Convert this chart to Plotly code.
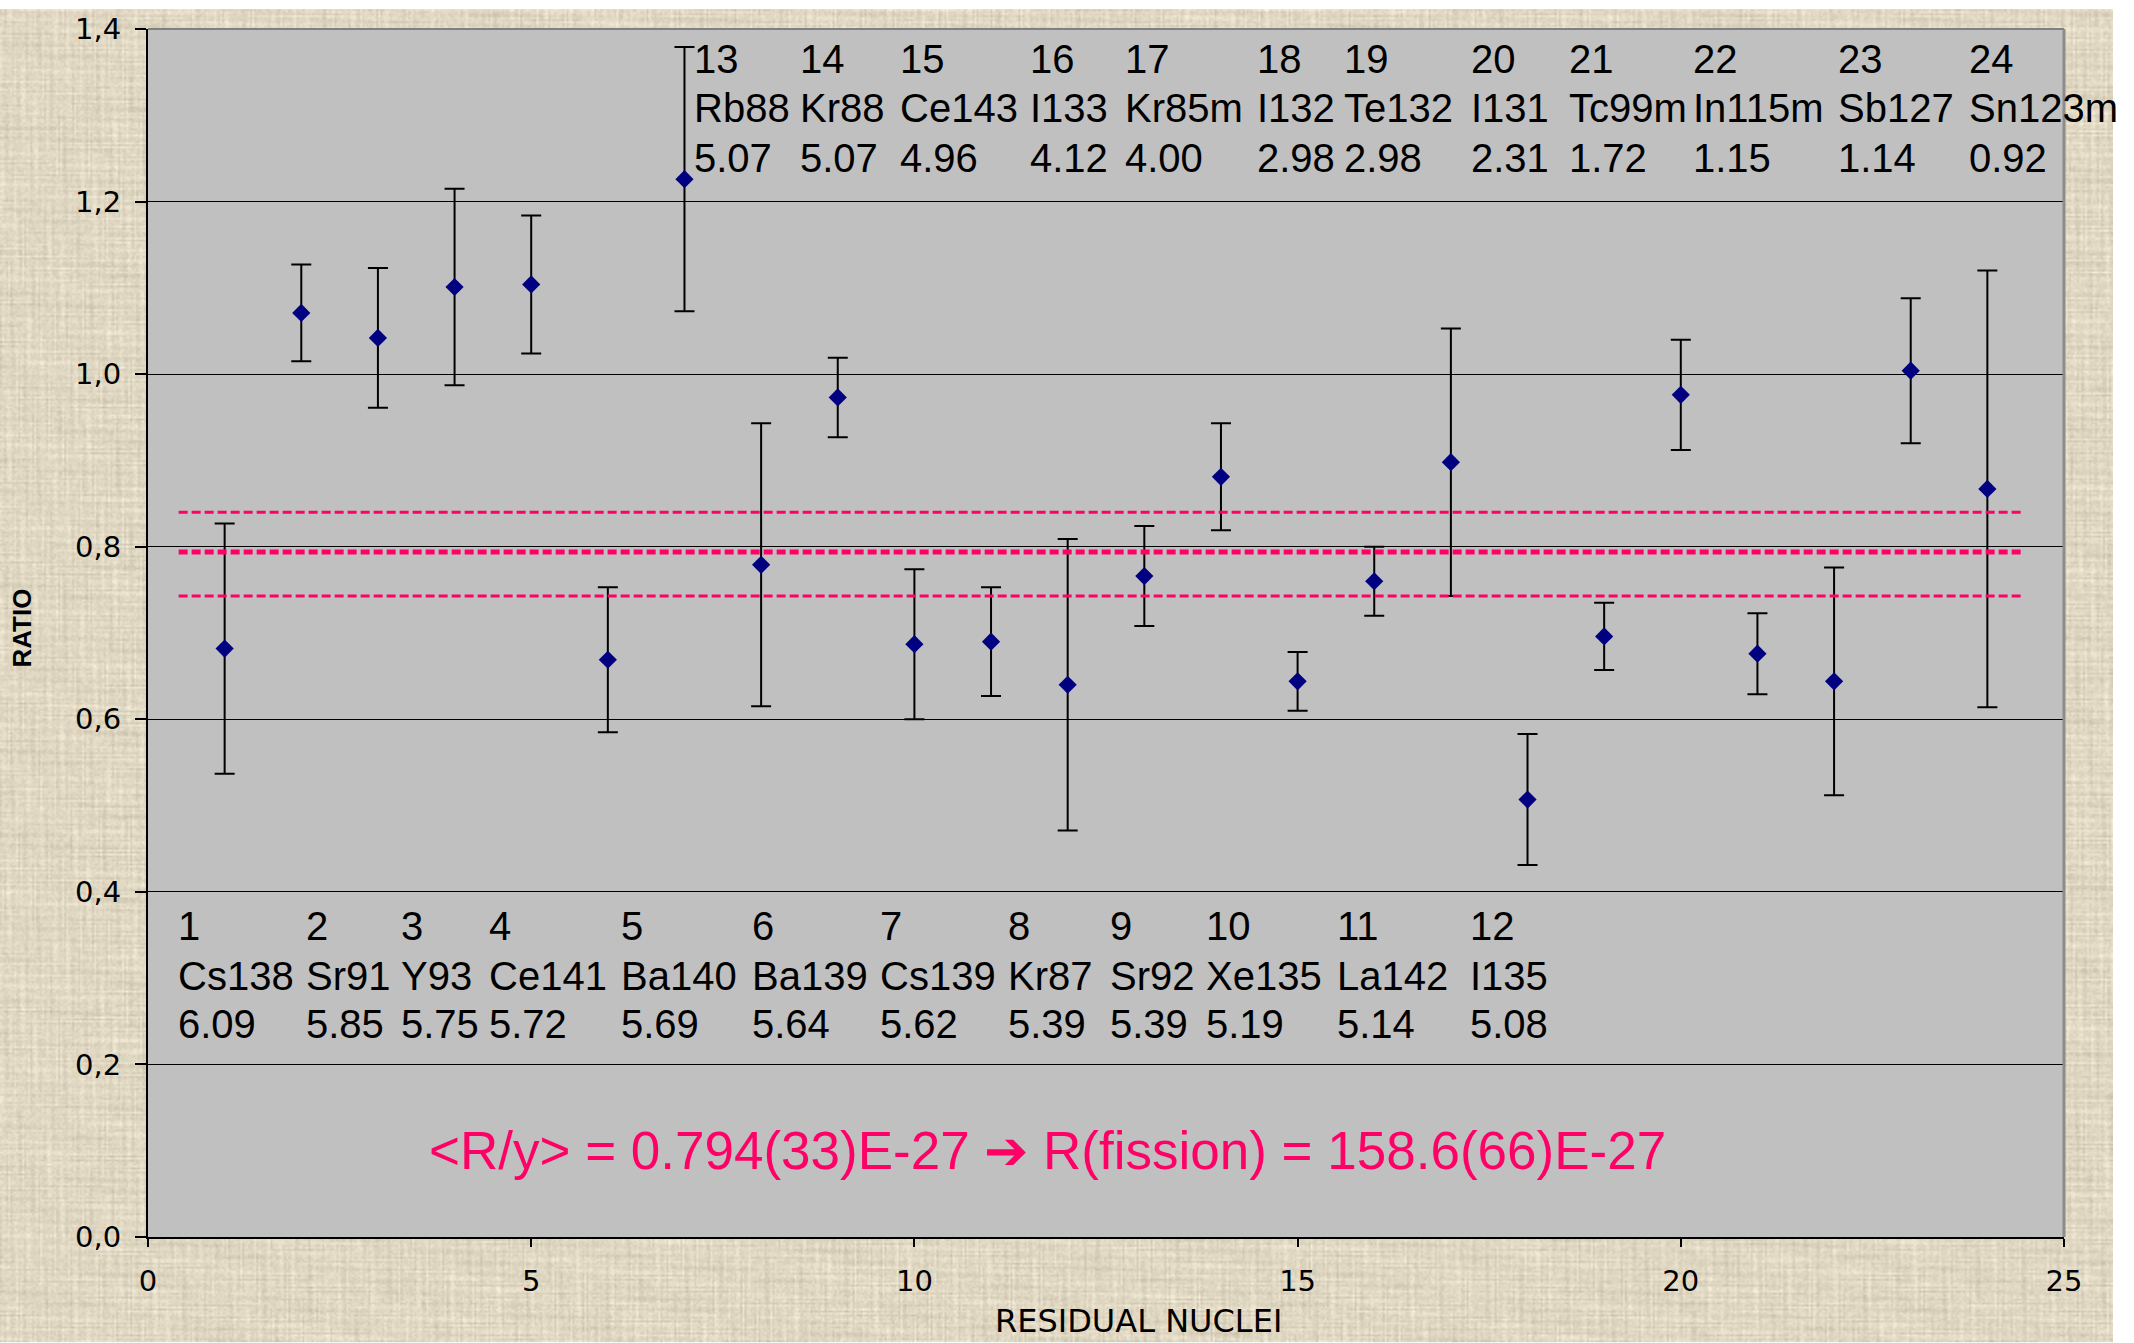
import base64
import struct
import zlib

import numpy as np
import plotly.graph_objects as go

# ---- data -------------------------------------------------------------
nucleus_no = list(range(1, 25))
nuclide = ["Cs138", "Sr91", "Y93", "Ce141", "Ba140", "Ba139", "Cs139", "Kr87",
           "Sr92", "Xe135", "La142", "I135", "Rb88", "Kr88", "Ce143", "I133",
           "Kr85m", "I132", "Te132", "I131", "Tc99m", "In115m", "Sb127", "Sn123m"]
fission_yield = ["6.09", "5.85", "5.75", "5.72", "5.69", "5.64", "5.62", "5.39",
                 "5.39", "5.19", "5.14", "5.08", "5.07", "5.07", "4.96", "4.12",
                 "4.00", "2.98", "2.98", "2.31", "1.72", "1.15", "1.14", "0.92"]
ratio = [0.682, 1.071, 1.042, 1.101, 1.104, 0.669, 1.226, 0.779, 0.973, 0.687,
         0.690, 0.640, 0.766, 0.881, 0.644, 0.760, 0.898, 0.507, 0.696, 0.976,
         0.676, 0.644, 1.004, 0.867]
ratio_err = [0.145, 0.056, 0.081, 0.114, 0.080, 0.084, 0.153, 0.164, 0.046, 0.087,
             0.063, 0.169, 0.058, 0.062, 0.034, 0.040, 0.155, 0.076, 0.039, 0.064,
             0.047, 0.132, 0.084, 0.253]

mean_ratio = 0.794
band_upper = 0.840
band_lower = 0.743
band_x = [0.4, 24.47]

result_text = "<R/y> = 0.794(33)E-27 \u2794 R(fission) = 158.6(66)E-27"

# ---- label layout (left edge of each text column, in x-axis units) ------
label_x = [0.37, 2.04, 3.28, 4.42, 6.14, 7.86, 9.52, 11.20, 12.52, 13.78, 15.49, 17.22,
           7.10, 8.48, 9.78, 11.48, 12.72, 14.45, 15.58, 17.24, 18.52, 20.13, 22.02, 23.73]
rows_lower = [0.360, 0.303, 0.247]
rows_upper = [1.365, 1.308, 1.251]

W, H = 2134, 1343
ML, MR, MT, MB = 148, 70, 20, 106
PW, PH = W - ML - MR, H - MT - MB
TEXTURE_W = 2113


# ---- linen-like canvas texture for the page background -----------------
def png_uri(rgb):
    h, w, _ = rgb.shape
    raw = b"".join(b"\x00" + rgb[r].tobytes() for r in range(h))

    def chunk(tag, data):
        body = tag + data
        return struct.pack(">I", len(data)) + body + struct.pack(">I", zlib.crc32(body) & 0xFFFFFFFF)

    png = (b"\x89PNG\r\n\x1a\n"
           + chunk(b"IHDR", struct.pack(">IIBBBBB", w, h, 8, 2, 0, 0, 0))
           + chunk(b"IDAT", zlib.compress(raw, 9))
           + chunk(b"IEND", b""))
    return "data:image/png;base64," + base64.b64encode(png).decode()


th, tw = H // 2, TEXTURE_W // 2
yy, xx = np.mgrid[0:th, 0:tw].astype(float)
weft = np.sin(yy * 2.1 + 1.7 * np.sin(xx * 0.031 + yy * 0.9))
warp = np.sin(xx * 1.9 + 1.3 * np.sin(yy * 0.027 + xx * 0.8))
slub1 = 0.55 + 0.45 * np.sin(xx * 0.071 + 3.0 * np.sin(yy * 0.53))
slub2 = 0.55 + 0.45 * np.sin(yy * 0.083 + 2.5 * np.sin(xx * 0.47))
grain = np.sin(xx * 12.9898 + yy * 78.233) * 43758.5453
grain = grain - np.floor(grain) - 0.5
lum = 216 + 11 * weft * slub1 + 11 * warp * slub2 + 18 * grain
tex = np.stack([lum + 9, lum, lum - 20], axis=-1)
tex = np.clip(tex, 0, 255).astype(np.uint8)
texture_uri = png_uri(tex)

# ---- figure ---------------------------------------------------------------
fig = go.Figure()

fig.add_trace(go.Scatter(
    x=nucleus_no, y=ratio, mode="markers",
    marker=dict(symbol="diamond", size=14, color="#000080", line=dict(width=0)),
    error_y=dict(type="data", array=ratio_err, visible=True,
                 color="black", thickness=2, width=10),
    showlegend=False, hoverinfo="skip",
))

for level, lw in [(band_upper, 3), (mean_ratio, 5), (band_lower, 3)]:
    fig.add_trace(go.Scatter(
        x=band_x, y=[level, level], mode="lines",
        line=dict(color="#FF0066", width=lw, dash="9px,4px"),
        showlegend=False, hoverinfo="skip",
    ))

label_font = dict(family="Liberation Sans, Arial, sans-serif", size=40, color="black")
annotations = []
for i in range(24):
    rows = rows_lower if i < 12 else rows_upper
    for text, yv in zip([str(nucleus_no[i]), nuclide[i], fission_yield[i]], rows):
        annotations.append(dict(
            x=label_x[i], y=yv, xref="x", yref="y", text=text, showarrow=False,
            xanchor="left", yanchor="middle", align="left", font=label_font,
        ))

annotations.append(dict(
    x=11.74, y=0.100, xref="x", yref="y",
    text=result_text.replace("<", "&lt;").replace(">", "&gt;"),
    showarrow=False, xanchor="center", yanchor="middle",
    font=dict(family="Liberation Sans, Arial, sans-serif", size=53, color="#FF0066"),
))
annotations.append(dict(
    x=(1138 - ML) / PW, y=(MT + PH - 1322) / PH, xref="paper", yref="paper",
    text="RESIDUAL NUCLEI", showarrow=False, xanchor="center", yanchor="middle",
    font=dict(family="DejaVu Sans, sans-serif", size=32, color="black"),
))
annotations.append(dict(
    x=(22 - ML) / PW, y=(MT + PH - 624) / PH, xref="paper", yref="paper",
    text="<b>RATIO</b>", showarrow=False, textangle=-90,
    xanchor="center", yanchor="middle",
    font=dict(family="Liberation Sans, Arial, sans-serif", size=26, color="black"),
))

fig.update_layout(
    width=W, height=H,
    margin=dict(l=ML, r=MR, t=MT, b=MB, pad=0),
    paper_bgcolor="white",
    plot_bgcolor="#C0C0C0",
    separators=",.",
    annotations=annotations,
    images=[dict(
        source=texture_uri, xref="paper", yref="paper",
        x=-ML / PW, y=1 + MT / PH, sizex=TEXTURE_W / PW, sizey=H / PH,
        xanchor="left", yanchor="top", sizing="stretch", layer="below",
    )],
    shapes=[
        # grey plot area drawn over the canvas texture
        dict(type="rect", xref="paper", yref="paper", x0=0, x1=1, y0=0, y1=1,
             fillcolor="#C0C0C0", line=dict(width=0), layer="below"),
        dict(type="line", xref="paper", yref="paper", x0=0, x1=1, y0=1, y1=1,
             line=dict(color="#808080", width=2), layer="above"),
        dict(type="line", xref="paper", yref="paper", x0=1, x1=1, y0=0, y1=1,
             line=dict(color="#8C8C8C", width=3), layer="above"),
    ],
    xaxis=dict(
        range=[0, 25], dtick=5, tick0=0, showgrid=False, zeroline=False,
        showline=True, linecolor="black", linewidth=2,
        ticks="outside", ticklen=8, tickwidth=1.5, tickcolor="black",
        ticklabelstandoff=9,
        tickfont=dict(family="DejaVu Sans, sans-serif", size=29, color="black"),
    ),
    yaxis=dict(
        range=[0, 1.4], dtick=0.2, tick0=0, tickformat=".1f",
        showgrid=True, gridcolor="black", gridwidth=1.4, zeroline=False,
        showline=True, linecolor="black", linewidth=2,
        ticks="outside", ticklen=11, tickwidth=1.5, tickcolor="black",
        ticklabelstandoff=8,
        tickfont=dict(family="DejaVu Sans, sans-serif", size=29, color="black"),
    ),
)

fig.write_html("out.html")
